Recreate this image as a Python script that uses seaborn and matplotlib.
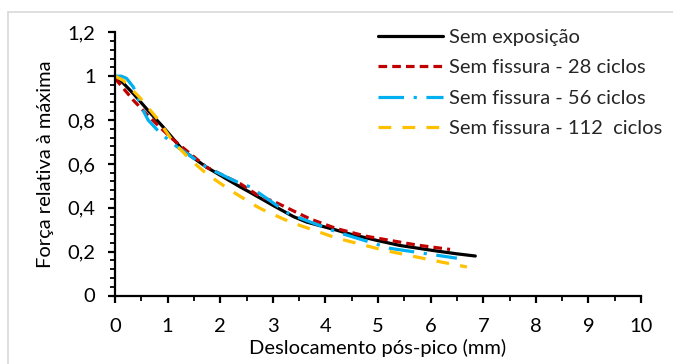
import matplotlib
matplotlib.use("Agg")
import matplotlib.pyplot as plt
from matplotlib.lines import Line2D
from matplotlib.ticker import MultipleLocator, FuncFormatter
import seaborn as sns
import pandas as pd

# ---- data ----
x_sem = [0, 0.15, 0.35, 0.63, 0.92, 1.3, 1.74, 2.38, 2.57, 3.01, 3.39, 3.64, 4.21, 4.47, 5.0, 5.42, 6.05, 6.5, 6.85]
y_sem = [1.0, 0.97, 0.92, 0.843, 0.767, 0.66, 0.585, 0.495, 0.47, 0.41, 0.36, 0.335, 0.298, 0.28, 0.25, 0.228, 0.205, 0.19, 0.18]

x_28 = [0, 0.35, 0.67, 1.06, 1.74, 2.38, 2.76, 3.01, 3.7, 4.21, 4.78, 5.74, 6.37]
y_28 = [0.99, 0.89, 0.81, 0.72, 0.585, 0.51, 0.45, 0.43, 0.35, 0.305, 0.27, 0.23, 0.21]

x_56 = [0, 0.12, 0.22, 0.35, 0.5, 0.63, 0.86, 1.17, 1.74, 2.25, 2.57, 3.2, 3.33, 4.21, 5.23, 6.5]
y_56 = [1.0, 1.0, 0.99, 0.95, 0.86, 0.80, 0.74, 0.68, 0.585, 0.525, 0.495, 0.39, 0.37, 0.29, 0.215, 0.17]

x_112 = [0, 0.16, 0.48, 0.79, 1.11, 1.43, 1.74, 2.19, 2.7, 2.82, 3.33, 4.21, 5.1, 6.11, 6.69]
y_112 = [1.0, 0.98, 0.9, 0.81, 0.7, 0.62, 0.555, 0.48, 0.405, 0.39, 0.335, 0.262, 0.207, 0.157, 0.13]

labels = ["Sem exposição", "Sem fissura - 28 ciclos", "Sem fissura - 56 ciclos", "Sem fissura - 112  ciclos"]
colors = ["#000000", "#C00000", "#00B0F0", "#FFC000"]
dashes = [None, (2.7, 1.6), (8, 3, 1, 3), (4, 3.5)]

sns.set_theme(style="white")
plt.rcParams["font.family"] = ["Lato", "DejaVu Sans"]

FS = 14.5

fig = plt.figure(figsize=(6.73, 3.64), dpi=100)
ax = fig.add_axes([115/673, 1 - 295.5/364, (641 - 115)/673, (295.5 - 32.3)/364])

series = [(x_sem, y_sem), (x_28, y_28), (x_56, y_56), (x_112, y_112)]
for (xs, ys), lab, col, d in zip(series, labels, colors, dashes):
    df = pd.DataFrame({"x": xs, "y": ys})
    sns.lineplot(data=df, x="x", y="y", ax=ax, color=col, lw=2.3, sort=False,
                 label=lab, estimator=None)
    line = ax.get_lines()[-1]
    if d is not None:
        line.set_dashes(d)
    line.set_solid_capstyle("round")
    line.set_dash_capstyle("butt")

ax.set_xlim(0, 10)
ax.set_ylim(0, 1.2)
ax.xaxis.set_major_locator(MultipleLocator(1))
ax.xaxis.set_minor_locator(MultipleLocator(0.5))
ax.yaxis.set_major_locator(MultipleLocator(0.2))
ax.yaxis.set_minor_locator(MultipleLocator(0.04))

def fmt(v, pos):
    s = f"{v:.1f}".rstrip("0").rstrip(".")
    return s.replace(".", ",")
ax.yaxis.set_major_formatter(FuncFormatter(fmt))
ax.xaxis.set_major_formatter(FuncFormatter(lambda v, p: f"{int(round(v))}"))

for s in ["top", "right"]:
    ax.spines[s].set_visible(False)
for s in ["left", "bottom"]:
    ax.spines[s].set_color("black")
    ax.spines[s].set_linewidth(1.6)

ax.tick_params(axis="both", which="major", direction="out", length=5, width=1.6,
               colors="black", labelsize=FS)
ax.tick_params(axis="both", which="minor", direction="out", length=3.5, width=1.3, colors="black")
ax.tick_params(axis="x", which="major", pad=11)
ax.tick_params(axis="y", which="major", pad=9)
ax.tick_params(bottom=True, left=True, which="both")

ax.set_xlabel("Deslocamento pós-pico (mm)", fontsize=FS, color="black", labelpad=3)
ax.set_ylabel("Força relativa à máxima", fontsize=FS, color="black", labelpad=10)

leg = ax.legend(loc="upper left", bbox_to_anchor=(0.485, 1.044), frameon=False,
                fontsize=FS, handlelength=3.2, handletextpad=0.3, labelspacing=0.66,
                borderaxespad=0)

# light grey chart-area border (top and left visible)
fig.add_artist(Line2D([8/673, 1.0], [1 - 12/364, 1 - 12/364], transform=fig.transFigure, color="#D9D9D9", lw=1.2))
fig.add_artist(Line2D([8/673, 8/673], [0.0, 1 - 12/364], transform=fig.transFigure, color="#D9D9D9", lw=1.2))

fig.savefig("out.png", dpi=100)
